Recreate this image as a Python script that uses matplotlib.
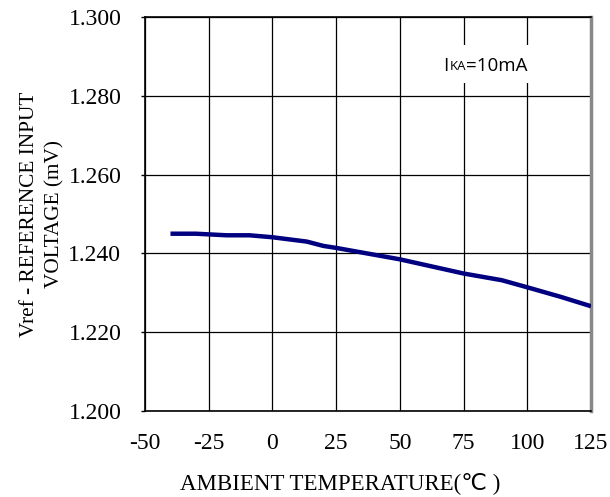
import matplotlib.pyplot as plt
from matplotlib.patches import Rectangle

# temperature (degC) and Vref readings taken off the curve
temp = [-40, -30, -18, -9, 0, 13.5, 20, 25, 50, 75, 90, 100, 113, 125]
vref = [1.2450, 1.2450, 1.2446, 1.2446, 1.2441, 1.2430, 1.2419, 1.2414,
        1.2385, 1.2349, 1.2332, 1.2314, 1.2290, 1.2266]

xticks = [-50, -25, 0, 25, 50, 75, 100, 125]
yticks = [1.200, 1.220, 1.240, 1.260, 1.280, 1.300]

serif = ['Liberation Serif', 'DejaVu Sans']

fig = plt.figure(figsize=(6.1, 4.97), dpi=100)
ax = fig.add_axes([0.2377, 0.173, 0.7311, 0.7928])

ax.plot(temp, vref, color='#000080', lw=3.2, solid_capstyle='butt', zorder=3)

ax.set_xlim(-50, 125)
ax.set_ylim(1.200, 1.300)
ax.set_xticks(xticks)
ax.set_yticks(yticks)
ax.set_xticklabels([str(t) for t in xticks], family=serif, fontsize=17)
ax.set_yticklabels(['%.3f' % v for v in yticks], family=serif, fontsize=17)
ax.tick_params(axis='y', length=3, width=1, pad=14)
ax.tick_params(axis='x', length=0, pad=16)
ax.grid(True, color='black', lw=0.9)

for s in ['left', 'bottom', 'top']:
    ax.spines[s].set_linewidth(1.2)
ax.spines['right'].set_color('#888888')
ax.spines['right'].set_linewidth(2.5)

ax.set_xlabel('AMBIENT TEMPERATURE(℃ )', family=serif, fontsize=16.5, labelpad=14)
ax.xaxis.set_label_coords(0.437, -0.155)
ax.set_ylabel('Vref - REFERENCE INPUT\nVOLTAGE (mV)', family=serif, fontsize=15.3,
              labelpad=3, linespacing=1.4)

# white box behind the IKA=10mA note (hides the grid there)
ax.add_patch(Rectangle((0.617, 0.8325), 0.314, 0.0965, transform=ax.transAxes,
                       facecolor='white', edgecolor='none', zorder=2))
t1 = ax.text(0.669, 0.862, 'I', transform=ax.transAxes, family='Open Sans',
             fontsize=13.5, va='baseline', zorder=4)
t2 = ax.annotate('KA', xy=(1, 0), xycoords=t1, xytext=(1, 1.8), textcoords='offset points',
                 family='Open Sans', fontsize=9.5, va='bottom', zorder=4)
ax.annotate('=10mA', xy=(1, 0), xycoords=t2, xytext=(0, -1.8), textcoords='offset points',
            family='Open Sans', fontsize=13.5, va='bottom', zorder=4)

fig.savefig('out.png', dpi=100)
